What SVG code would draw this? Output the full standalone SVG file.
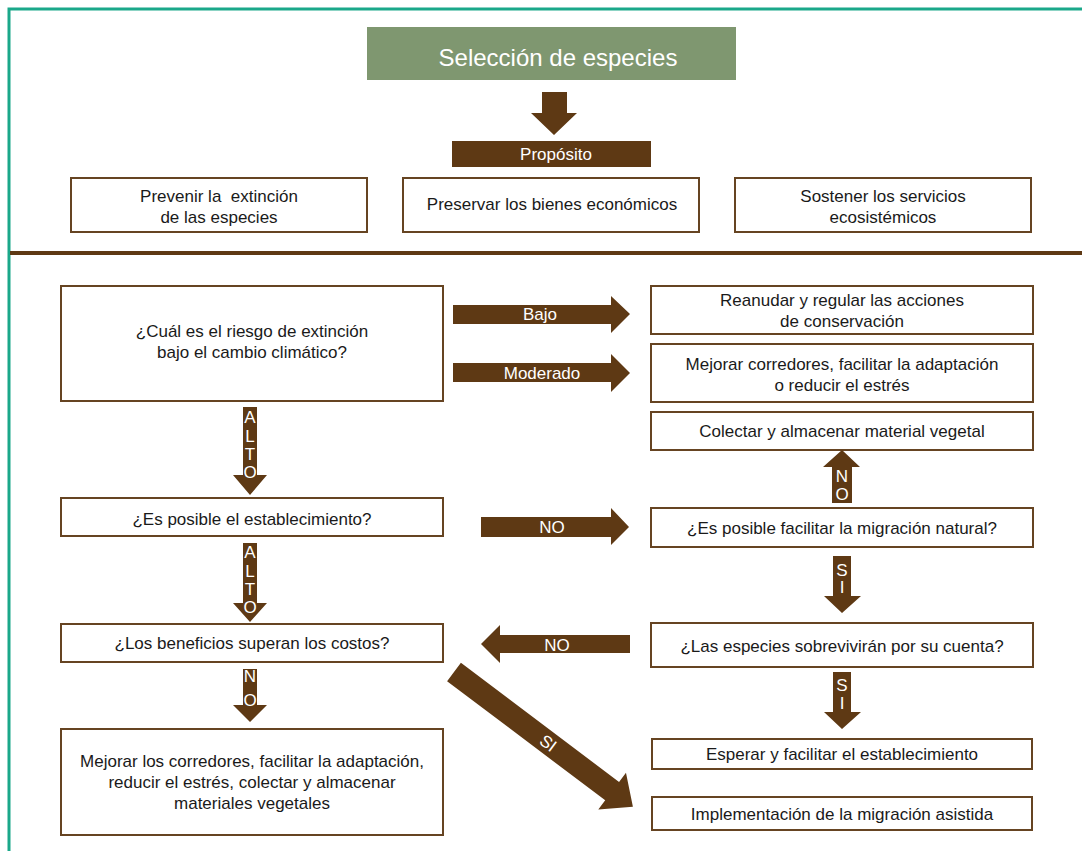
<svg xmlns="http://www.w3.org/2000/svg" width="1082" height="851" viewBox="0 0 1082 851">
<style>
.box{fill:#fff;stroke:#664422;stroke-width:2}
.t{font-family:"Liberation Sans",Arial,sans-serif;font-size:17px;fill:#1a1a1a;text-anchor:middle}
.w{font-family:"Liberation Sans",Arial,sans-serif;font-size:17px;fill:#fff;text-anchor:middle}
.arr{fill:#5e3914}
</style>
<rect x="0" y="0" width="1082" height="851" fill="#fff"/>
<path d="M9,851 V9 H1082" fill="none" stroke="#1aa88a" stroke-width="3"/>
<rect x="10" y="251" width="1072" height="4" fill="#5e3914"/>

<g id="title">
<rect x="367" y="27" width="369" height="53" fill="#7f9770"/>
<text x="558" y="66" class="w" style="font-size:24px">Selección de especies</text>
</g>
<g id="proposito">
<rect x="452" y="141" width="199" height="26" fill="#5e3914"/>
<text x="556" y="160" class="w">Propósito</text>
</g>
<g id="p1"><rect class="box" x="71" y="178" width="296" height="54"/>
<text class="t" x="219" y="202" xml:space="preserve">Prevenir la  extinción</text><text class="t" x="219" y="223">de las especies</text></g>
<g id="p2"><rect class="box" x="403" y="178" width="296" height="54"/>
<text class="t" x="552" y="210">Preservar los bienes económicos</text></g>
<g id="p3"><rect class="box" x="735" y="178" width="296" height="54"/>
<text class="t" x="883" y="202">Sostener los servicios</text><text class="t" x="883" y="223">ecosistémicos</text></g>

<g id="q1"><rect class="box" x="61" y="286" width="382" height="115"/>
<text class="t" x="252" y="337">¿Cuál es el riesgo de extinción</text><text class="t" x="252" y="358">bajo el cambio climático?</text></g>
<g id="q2"><rect class="box" x="61" y="498" width="382" height="38"/>
<text class="t" x="252" y="525">¿Es posible el establecimiento?</text></g>
<g id="q3"><rect class="box" x="61" y="624" width="382" height="38"/>
<text class="t" x="252" y="649">¿Los beneficios superan los costos?</text></g>
<g id="q4"><rect class="box" x="61" y="729" width="382" height="106"/>
<text class="t" x="252" y="767">Mejorar los corredores, facilitar la adaptación,</text>
<text class="t" x="252" y="788">reducir el estrés, colectar y almacenar</text>
<text class="t" x="252" y="809">materiales vegetales</text></g>

<g id="r1"><rect class="box" x="651" y="286" width="382" height="48"/>
<text class="t" x="842" y="306">Reanudar y regular las acciones</text><text class="t" x="842" y="327">de conservación</text></g>
<g id="r2"><rect class="box" x="651" y="344" width="382" height="58"/>
<text class="t" x="842" y="370">Mejorar corredores, facilitar la adaptación</text><text class="t" x="842" y="391">o reducir el estrés</text></g>
<g id="r3"><rect class="box" x="651" y="412" width="382" height="38"/>
<text class="t" x="842" y="437">Colectar y almacenar material vegetal</text></g>
<g id="r4"><rect class="box" x="651" y="508" width="382" height="39"/>
<text class="t" x="842" y="534">¿Es posible facilitar la migración natural?</text></g>
<g id="r5"><rect class="box" x="651" y="623" width="382" height="44"/>
<text class="t" x="842" y="652">¿Las especies sobrevivirán por su cuenta?</text></g>
<g id="r6"><rect class="box" x="652" y="739" width="380" height="30"/>
<text class="t" x="842" y="760">Esperar y facilitar el establecimiento</text></g>
<g id="r7"><rect class="box" x="652" y="797" width="380" height="33"/>
<text class="t" x="842" y="820">Implementación de la migración asistida</text></g>

<g id="connectors">
<polygon class="arr" points="542,92 567,92 567,113 577,113 554,135 531,113 542,113"/>
<polygon class="arr" points="453,305 611,305 611,296 630,314 611,333 611,324 453,324"/>
<text class="w" x="540" y="320">Bajo</text>
<polygon class="arr" points="453,363 611,363 611,354 630,373 611,392 611,382 453,382"/>
<text class="w" x="542" y="379">Moderado</text>
<polygon class="arr" points="243,407 257,407 257,475 267,475 250,495 233,475 243,475"/>
<text class="w" x="250" y="423">A</text><text class="w" x="250" y="442">L</text><text class="w" x="250" y="460">T</text><text class="w" x="250" y="478">O</text>
<polygon class="arr" points="243,543 257,543 257,603 267,603 250,622 233,603 243,603"/>
<text class="w" x="250" y="558">A</text><text class="w" x="250" y="577">L</text><text class="w" x="250" y="595">T</text><text class="w" x="250" y="613">O</text>
<polygon class="arr" points="243,669 257,669 257,705 267,705 250,722 233,705 243,705"/>
<text class="w" x="250" y="682">N</text><text class="w" x="250" y="706">O</text>
<polygon class="arr" points="481,517 611,517 611,508 629,527 611,545 611,537 481,537"/>
<text class="w" x="552" y="533">NO</text>
<polygon class="arr" points="832,503 852,503 852,467 860,467 842,450 823,467 832,467"/>
<text class="w" x="842" y="482">N</text><text class="w" x="842" y="500">O</text>
<polygon class="arr" points="833,556 851,556 851,596 861,596 842,613 824,596 833,596"/>
<text class="w" x="842" y="576">S</text><text class="w" x="842" y="593">I</text>
<polygon class="arr" points="833,672 851,672 851,712 861,712 842,729 824,712 833,712"/>
<text class="w" x="842" y="691">S</text><text class="w" x="842" y="709">I</text>
<polygon class="arr" points="630,635 500,635 500,625 481,644 500,663 500,653 630,653"/>
<text class="w" x="557" y="651">NO</text>
<g transform="translate(454,672) rotate(37)">
<polygon class="arr" points="0,-11.5 198,-11.5 198,-23 224,0 198,23 198,11.5 0,11.5"/>
<text class="w" x="118" y="6">SI</text>
</g>
</g>
</svg>
